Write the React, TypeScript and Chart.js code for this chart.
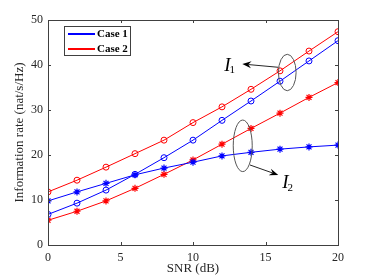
import React, { useEffect, useRef } from 'react';
import { Chart, registerables } from 'chart.js';
Chart.register(...registerables);

const snr = [0, 2, 4, 6, 8, 10, 12, 14, 16, 18, 20];
const case1I1 = [6.8, 9.3, 12.2, 15.7, 19.4, 23.3, 27.7, 32.0, 36.4, 40.9, 45.4];
const case1I2 = [9.8, 11.8, 13.7, 15.6, 17.1, 18.4, 19.8, 20.6, 21.3, 21.8, 22.2];
const case2I1 = [11.8, 14.4, 17.3, 20.3, 23.3, 27.2, 30.7, 34.6, 38.7, 43.1, 47.4];
const case2I2 = [5.5, 7.5, 9.8, 12.6, 15.7, 18.9, 22.4, 25.9, 29.3, 32.8, 36.1];
const xTicks = [0, 5, 10, 15, 20];
const yTicks = [0, 10, 20, 30, 40, 50];
const legendLabels = ['Case 1', 'Case 2'];
const legendColors = ['#0000ff', '#ff0000'];

// annotation placements in data units
const ellipses = [
  { cx: 16.5, cy: 38.33, dx: 0.61, dy: 4.05 },
  { cx: 13.43, cy: 22.04, dx: 0.655, dy: 5.73 },
];
const arrows = [
  { x0: 15.88, y0: 39.49, x1: 13.4, y1: 40.22 },
  { x0: 13.93, y0: 17.78, x1: 15.88, y1: 15.56 },
];
const labels = [
  { x: 12.15, y: 38.73, sub: '1' },
  { x: 16.15, y: 12.6, sub: '2' },
];

const SERIF = '"Liberation Serif", "Times New Roman", serif';

const overlay = {
  id: 'overlay',
  afterDatasetsDraw(chart: any) {
    const ctx = chart.ctx;
    const { left, right, top, bottom } = chart.chartArea;
    const xs = chart.scales.x;
    const ys = chart.scales.y;
    ctx.save();
    // frame
    ctx.strokeStyle = '#404040';
    ctx.lineWidth = 1;
    ctx.strokeRect(Math.round(left) + 0.5, Math.round(top) + 0.5, Math.round(right - left), Math.round(bottom - top));
    // inward ticks
    const tl = 3;
    ctx.beginPath();
    for (const v of xTicks) {
      const p = Math.round(xs.getPixelForValue(v)) + 0.5;
      ctx.moveTo(p, bottom); ctx.lineTo(p, bottom - tl);
      ctx.moveTo(p, top); ctx.lineTo(p, top + tl);
    }
    for (const v of yTicks) {
      const p = Math.round(ys.getPixelForValue(v)) + 0.5;
      ctx.moveTo(left, p); ctx.lineTo(left + tl, p);
      ctx.moveTo(right, p); ctx.lineTo(right - tl, p);
    }
    ctx.stroke();

    // ellipses
    ctx.strokeStyle = '#555555';
    ctx.lineWidth = 1;
    for (const e of ellipses) {
      const cx = xs.getPixelForValue(e.cx);
      const cy = ys.getPixelForValue(e.cy);
      const rx = Math.abs(xs.getPixelForValue(e.cx + e.dx) - cx);
      const ry = Math.abs(ys.getPixelForValue(e.cy + e.dy) - cy);
      ctx.beginPath();
      ctx.ellipse(cx, cy, rx, ry, 0, 0, Math.PI * 2);
      ctx.stroke();
    }
    // arrows
    for (const a of arrows) {
      const x0 = xs.getPixelForValue(a.x0), y0 = ys.getPixelForValue(a.y0);
      const x1 = xs.getPixelForValue(a.x1), y1 = ys.getPixelForValue(a.y1);
      const ang = Math.atan2(y1 - y0, x1 - x0);
      const L = 9, W = 3.5, N = 6;
      const c = Math.cos(ang), s = Math.sin(ang);
      ctx.strokeStyle = '#262626';
      ctx.beginPath();
      ctx.moveTo(x0, y0);
      ctx.lineTo(x1 - c * N, y1 - s * N);
      ctx.stroke();
      ctx.fillStyle = '#000000';
      ctx.beginPath();
      ctx.moveTo(x1, y1);
      ctx.lineTo(x1 - c * L - s * W, y1 - s * L + c * W);
      ctx.lineTo(x1 - c * N, y1 - s * N);
      ctx.lineTo(x1 - c * L + s * W, y1 - s * L - c * W);
      ctx.closePath();
      ctx.fill();
    }
    // labels
    ctx.fillStyle = '#000000';
    ctx.textBaseline = 'alphabetic';
    ctx.textAlign = 'left';
    for (const l of labels) {
      const x = xs.getPixelForValue(l.x), y = ys.getPixelForValue(l.y);
      ctx.font = `italic 19px ${SERIF}`;
      ctx.fillText('I', x, y);
      const w = ctx.measureText('I').width;
      ctx.font = `11px ${SERIF}`;
      ctx.fillText(l.sub, x + w - 1, y + 2.5);
    }
    // legend
    const bx = Math.round(left) + 16.5, by = Math.round(top) + 6.5, bw = 66, bh = 29;
    ctx.fillStyle = '#ffffff';
    ctx.fillRect(bx, by, bw, bh);
    ctx.strokeStyle = '#404040';
    ctx.lineWidth = 1;
    ctx.strokeRect(bx, by, bw, bh);
    ctx.font = `bold 11px ${SERIF}`;
    ctx.textBaseline = 'middle';
    legendLabels.forEach((lab, i) => {
      const yy = by + 7.5 + i * 15;
      ctx.strokeStyle = legendColors[i];
      ctx.lineWidth = 2;
      ctx.beginPath();
      ctx.moveTo(bx + 3.5, yy);
      ctx.lineTo(bx + 30.5, yy);
      ctx.stroke();
      ctx.fillStyle = '#000000';
      ctx.fillText(lab, bx + 32.5, yy + 0.5);
    });
    ctx.restore();
  },
};

function mk(label: string, data: number[], color: string, star: boolean) {
  return {
    label,
    data: snr.map((x, i) => ({ x, y: data[i] })),
    borderColor: color,
    backgroundColor: color,
    borderWidth: 1,
    pointStyle: star ? 'star' : 'circle',
    pointRadius: star ? 3.5 : 3,
    pointBorderWidth: star ? 1.2 : 1,
    pointBorderColor: color,
    pointBackgroundColor: star ? color : 'rgba(0,0,0,0)',
    tension: 0,
  };
}

export default function App() {
  const ref = useRef<HTMLCanvasElement>(null);
  useEffect(() => {
    if (!ref.current) return;
    const chart = new Chart(ref.current, {
      type: 'line',
      data: {
        datasets: [
          mk('Case 1 I1', case1I1, '#0000ff', false),
          mk('Case 1 I2', case1I2, '#0000ff', true),
          mk('Case 2 I1', case2I1, '#ff0000', false),
          mk('Case 2 I2', case2I2, '#ff0000', true),
        ],
      },
      options: {
        animation: false,
        responsive: false,
        events: [],
        layout: { padding: { left: 0, top: 20, right: 36, bottom: 0 } },
        plugins: { legend: { display: false }, tooltip: { enabled: false } },
        scales: {
          x: {
            type: 'linear',
            min: 0,
            max: 20,
            afterFit: (s: any) => { s.height = 35; },
            afterBuildTicks: (s: any) => { s.ticks = xTicks.map((v) => ({ value: v })); },
            grid: { display: false, drawTicks: false },
            border: { display: false },
            ticks: { color: '#262626', padding: 6, font: { family: SERIF, size: 12 }, maxRotation: 0 },
            title: { display: true, text: 'SNR (dB)', color: '#262626', font: { family: SERIF, size: 13 }, padding: { top: 4, bottom: 4 } },
          },
          y: {
            type: 'linear',
            min: 0,
            max: 50,
            afterFit: (s: any) => { s.width = 48; },
            afterBuildTicks: (s: any) => { s.ticks = yTicks.map((v) => ({ value: v })); },
            grid: { display: false, drawTicks: false },
            border: { display: false },
            ticks: { color: '#262626', padding: 5, font: { family: SERIF, size: 12 } },
            title: { display: true, text: 'Information rate (nat/s/Hz)', color: '#262626', font: { family: SERIF, size: 13 }, padding: { top: 12, bottom: 12 } },
          },
        },
      },
      plugins: [overlay],
    } as any);
    return () => chart.destroy();
  }, []);
  return (
    <div style={{ position: 'fixed', left: 0, top: 0, width: 374, height: 280, background: '#fff' }}>
      <canvas ref={ref} width={374} height={280} style={{ width: 374, height: 280, display: 'block' }} />
    </div>
  );
}
